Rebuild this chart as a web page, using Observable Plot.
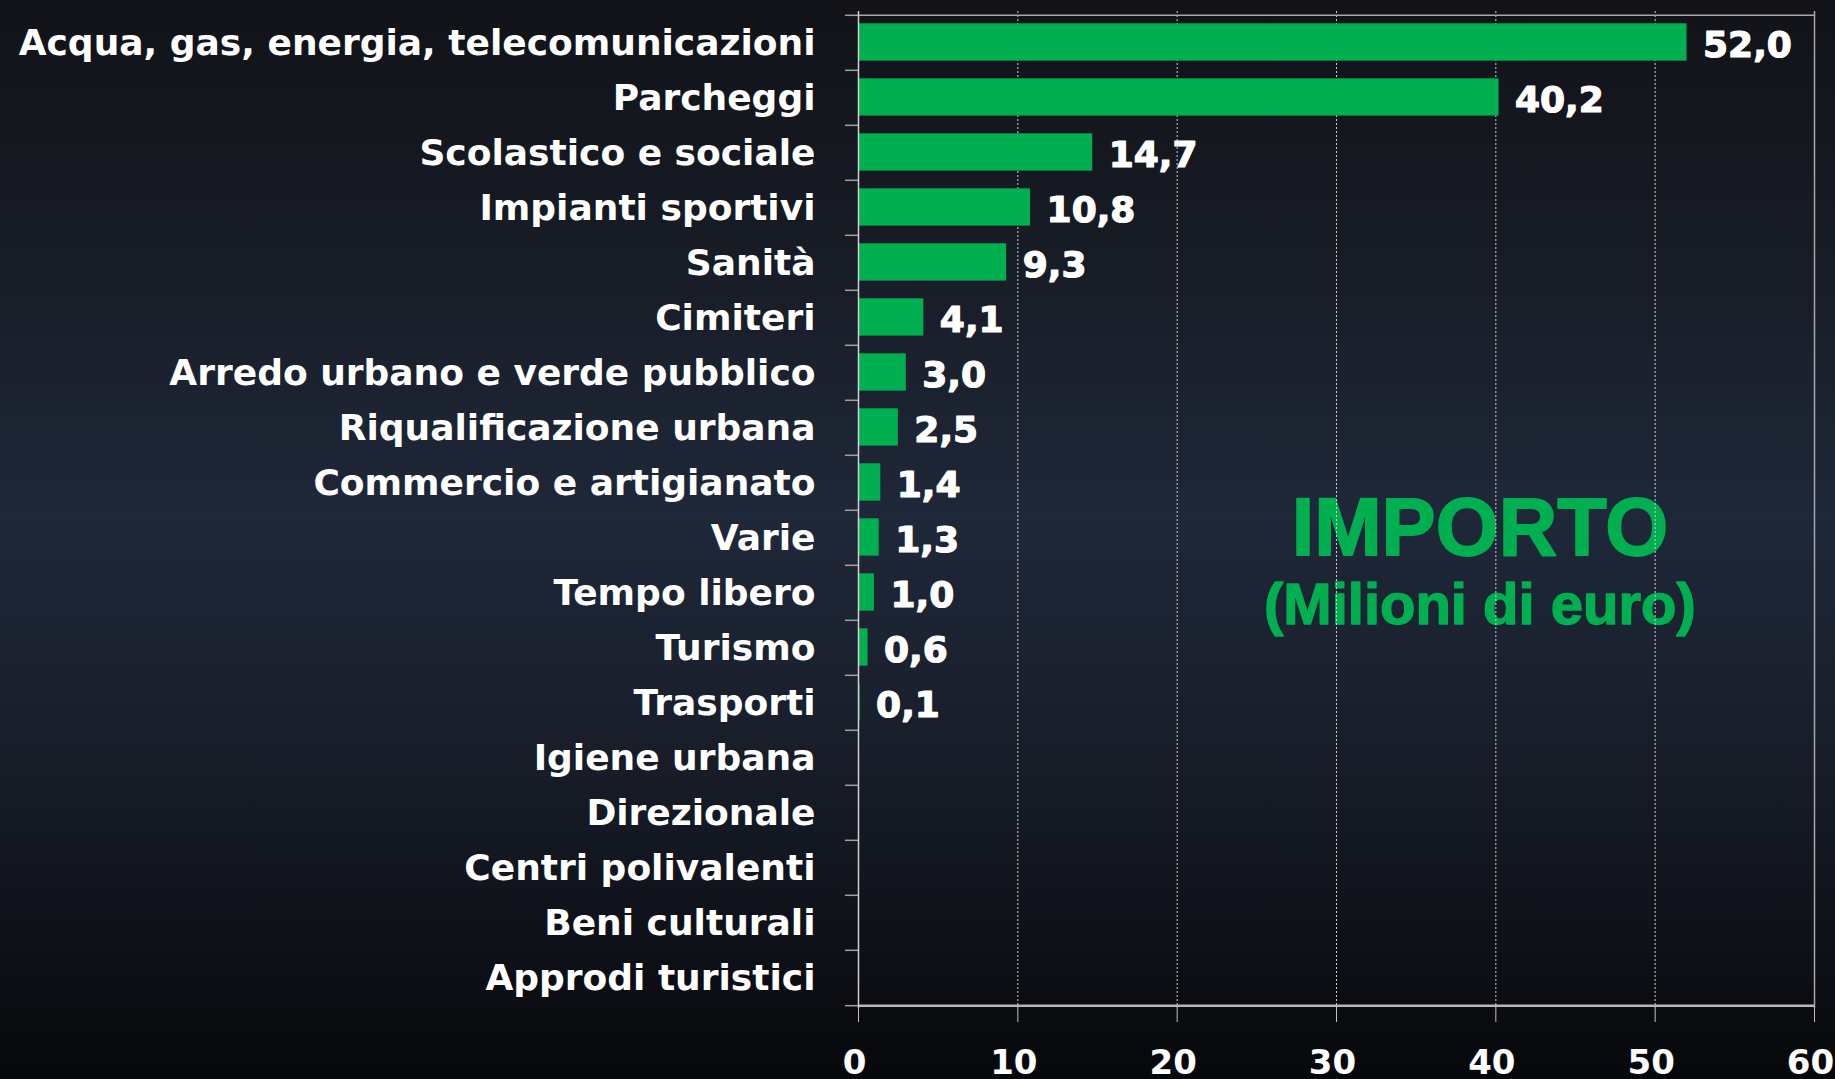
<!DOCTYPE html>
<html>
<head>
<meta charset="utf-8">
<script src="https://cdn.jsdelivr.net/npm/d3@7"></script>
<script src="https://cdn.jsdelivr.net/npm/@observablehq/plot@0.6"></script>
<style>
  html, body { margin: 0; padding: 0; background: #111318; overflow: hidden; }
  #chart svg { display: block; }
</style>
</head>
<body>
<div id="chart"></div>
<script>
const categories = [
  "Acqua, gas, energia, telecomunicazioni",
  "Parcheggi",
  "Scolastico e sociale",
  "Impianti sportivi",
  "Sanità",
  "Cimiteri",
  "Arredo urbano e verde pubblico",
  "Riqualificazione urbana",
  "Commercio e artigianato",
  "Varie",
  "Tempo libero",
  "Turismo",
  "Trasporti",
  "Igiene urbana",
  "Direzionale",
  "Centri polivalenti",
  "Beni culturali",
  "Approdi turistici"
];
const importo = [52.0, 40.2, 14.7, 10.8, 9.3, 4.1, 3.0, 2.5, 1.4, 1.3, 1.0, 0.6, 0.1, 0, 0, 0, 0, 0];
const xTicks = [0, 10, 20, 30, 40, 50, 60];
const gridTicks = [10, 20, 30, 40, 50];
const titleLines = ["IMPORTO", "(Milioni di euro)"];

const data = categories.map((c, i) => ({categoria: c, valore: importo[i]}));
const nonZero = data.filter(d => d.valore > 0);

const W = 1835, H = 1079;
const mt = 11, mb = 71, ml = 858, mr = 21;
const step = (H - mt - mb) / categories.length;
const pxPerUnit = (W - ml - mr) / 60;
const tickLen = 13 / pxPerUnit;
const fmt = v => v.toFixed(1).replace(".", ",");
const green = "#00b050";
const font = "'DejaVu Sans', sans-serif";

const chart = Plot.plot({
  width: W,
  height: H,
  marginTop: mt,
  marginBottom: mb,
  marginLeft: ml,
  marginRight: mr,
  style: {
    background: "linear-gradient(to bottom, #111318 0%, #171b24 22%, #1f2839 48%, #181d29 70%, #07080b 100%)",
    fontFamily: font,
    color: "white",
    overflow: "visible"
  },
  x: {domain: [0, 60], axis: null, label: null},
  y: {domain: categories, padding: 0, axis: null, label: null},
  marks: [
    // title inside plot
    Plot.text([titleLines[0]], {
      x: 39, frameAnchor: "top", dy: 554 - mt, lineAnchor: "bottom",
      text: d => d, fill: green, stroke: green, strokeWidth: 1.8, fontSize: 81, fontWeight: "bold",
      fontFamily: "'Liberation Sans', Arial, sans-serif"
    }),
    Plot.text([titleLines[1]], {
      x: 39, frameAnchor: "top", dy: 623 - mt, lineAnchor: "bottom",
      text: d => d, fill: green, stroke: green, strokeWidth: 1.4, fontSize: 58, fontWeight: "bold",
      fontFamily: "'Liberation Sans', Arial, sans-serif"
    }),
    // gridlines
    Plot.ruleX(gridTicks, {stroke: "#cfcfcf", strokeWidth: 1, strokeDasharray: "2,2"}),
    // bars
    Plot.barX(nonZero, {
      x: "valore", y: "categoria", fill: green,
      insetTop: 8.3, insetBottom: 9.4
    }),
    // value labels
    Plot.text(nonZero, {
      x: "valore", y: "categoria", text: d => fmt(d.valore),
      textAnchor: "start", dx: 16, dy: 2, fill: "white", stroke: "white", strokeWidth: 1.2,
      fontSize: 36, fontWeight: "bold", fontFamily: font
    }),
    // frame top and right
    Plot.ruleY([categories[0]], {x1: 0, x2: 60, dy: -step / 2, stroke: "#a8a8a8", strokeWidth: 1.5}),
    Plot.ruleX([60], {stroke: "#a8a8a8", strokeWidth: 1.5}),
    // left ticks at band boundaries
    Plot.ruleY(categories, {x1: -tickLen, x2: 0, dy: -step / 2, stroke: "#a0a0a0", strokeWidth: 1.5}),
    Plot.ruleY([categories[categories.length - 1]], {x1: -tickLen, x2: 0, dy: step / 2, stroke: "#a0a0a0", strokeWidth: 1.5}),
    // bottom axis line
    Plot.ruleY([categories[categories.length - 1]], {x1: 0, x2: 60, dy: step / 2, stroke: "#b8b8b8", strokeWidth: 2.5}),
    // left axis line
    Plot.ruleX([0], {stroke: "#d0d0d0", strokeWidth: 1.5}),
    // x axis: ticks and labels
    Plot.axisX(xTicks, {
      anchor: "bottom", tickSize: 14, tickPadding: 0, label: null,
      tickFormat: () => "", stroke: "#c0c0c0"
    }),
    Plot.axisX(xTicks, {
      anchor: "bottom", tickSize: 0, tickPadding: 41, label: null,
      tickFormat: d => String(d), dx: -4,
      fill: "white", stroke: "white", strokeWidth: 0.8,
      fontSize: 34, fontWeight: "bold", fontFamily: font
    }),
    Plot.axisY({
      anchor: "left", tickSize: 0, tickPadding: 43, label: null,
      fill: "white", stroke: "white", strokeWidth: 1.2,
      fontSize: 36, fontWeight: "bold", fontFamily: font
    })
  ]
});

document.getElementById("chart").appendChild(chart);
</script>
</body>
</html>
